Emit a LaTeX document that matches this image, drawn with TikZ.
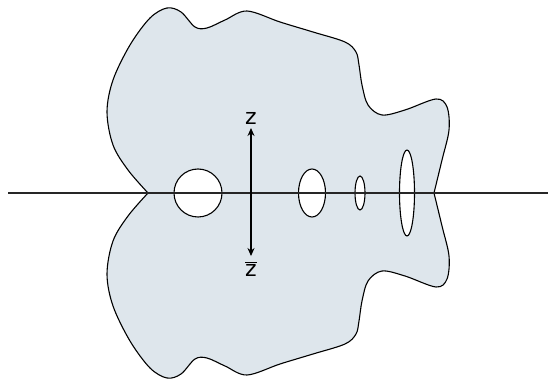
\documentclass[tikz,border=0pt]{standalone}
\usepackage{fontspec}
\setmainfont{DejaVu Sans}
\usetikzlibrary{arrows.meta,shapes.geometric}
\definecolor{blobfill}{RGB}{222,230,236}
\tikzset{
  blob/.style={draw=black, line width=1.1pt, line join=round},
  hole/.style={fill=white, draw=black, line width=1.1pt},
  axis/.style={draw=black!85, line width=1.3pt},
  zarrow/.style={draw=black, line width=1.2pt, -{Stealth[length=8pt,width=7pt]}},
  zlabel/.style={font=\fontsize{22}{22}\selectfont, inner sep=0pt}
}
\newcommand{\blobhalf}{plot[smooth, tension=0.55] coordinates {
 (148,0) (128,23) (113,48) (107,81) (113,113) (130,148) (150,175) (167,185)
 (181,181) (195,166) (207,165) (225,173) (247,182) (280,171) (313,161)
 (345,151) (356,141) (359,128) (362,108) (368,88) (382,78) (405,83) (436,94)
 (447,86) (449,63) (442,33) (434,0)}}
\begin{document}
\begin{tikzpicture}[x=1pt,y=1pt]
\useasboundingbox (0,-186) rectangle (556,193);
% blob: upper and lower halves (mirror images)
\fill[blobfill] \blobhalf -- cycle;
\fill[blobfill, yscale=-1] \blobhalf -- cycle;
\draw[blob] \blobhalf;
\draw[blob, yscale=-1] \blobhalf;
% holes
\node[hole, circle, minimum size=48pt, inner sep=0pt] (h1) at (198,0) {};
\node[hole, ellipse, minimum width=27pt, minimum height=48pt, inner sep=0pt] (h2) at (312,0) {};
\node[hole, ellipse, minimum width=10pt, minimum height=34pt, inner sep=0pt] (h3) at (360,0) {};
\node[hole, ellipse, minimum width=15pt, minimum height=86pt, inner sep=0pt] (h4) at (407,0) {};
% horizontal axis
\coordinate (L) at (8,0);
\coordinate (R) at (548,0);
\draw[axis] (L) -- (R);
% z and conjugate
\coordinate (c) at (251,0);
\node[zlabel, outer sep=4pt] (zt) at (251,75) {z};
\node[zlabel, outer sep=6pt] (zb) at (251,-76.5) {\vbox{\hrule height 1.3pt\kern1.6pt\hbox{z}}};
\draw[zarrow] (c) -- (zt.south);
\draw[zarrow] (c) -- (zb.north);
\end{tikzpicture}
\end{document}
